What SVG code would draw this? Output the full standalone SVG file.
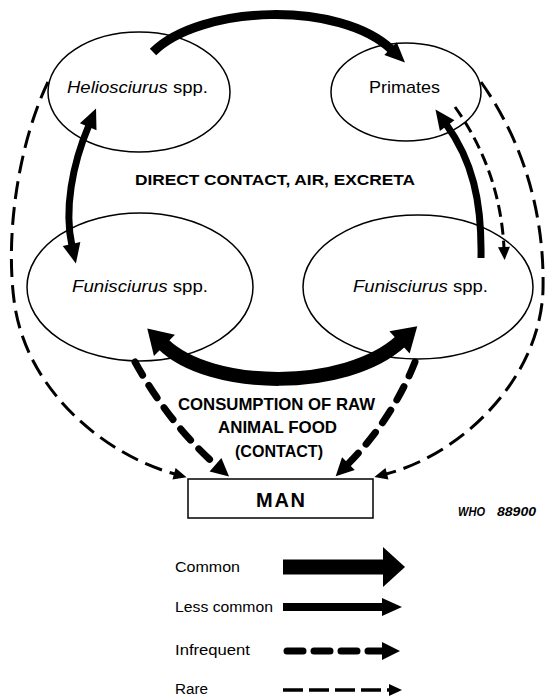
<svg xmlns="http://www.w3.org/2000/svg" width="545" height="700" viewBox="0 0 545 700">
<style>
.node{fill:#fff;stroke:#000;stroke-width:1.5}
.lbl{font-family:"Liberation Sans",Arial,sans-serif;font-size:17px;fill:#000}
.cap{font-family:"Liberation Sans",Arial,sans-serif;font-weight:bold;fill:#000}
.leg{font-family:"Liberation Sans",Arial,sans-serif;font-size:14px;fill:#000}
.common{fill:none;stroke:#000;stroke-width:14}
.less{fill:none;stroke:#000;stroke-width:8}
.inf{fill:none;stroke:#000;stroke-width:7;stroke-dasharray:15 12;stroke-linecap:round}
.rare{fill:none;stroke:#000;stroke-width:3;stroke-dasharray:18 8}
</style>
<defs>
<marker id="hCommon" markerUnits="userSpaceOnUse" orient="auto-start-reverse" refX="2" refY="0" markerWidth="30" markerHeight="34" viewBox="0 -17 30 34" overflow="visible"><path d="M0,-15 L24,0 L0,15 z" fill="#000"/></marker>
<marker id="hLess" markerUnits="userSpaceOnUse" orient="auto-start-reverse" refX="2" refY="0" markerWidth="24" markerHeight="22" viewBox="0 -11 24 22" overflow="visible"><path d="M0,-9 L20,0 L0,9 z" fill="#000"/></marker>
<marker id="hInf" markerUnits="userSpaceOnUse" orient="auto" refX="2" refY="0" markerWidth="22" markerHeight="22" viewBox="0 -11 22 22" overflow="visible"><path d="M0,-9 L18,0 L0,9 z" fill="#000"/></marker>
<marker id="hRare" markerUnits="userSpaceOnUse" orient="auto" refX="1" refY="0" markerWidth="16" markerHeight="16" viewBox="0 -8 16 16" overflow="visible"><path d="M0,-6 L13,0 L0,6 z" fill="#000"/></marker>
</defs>
<rect width="545" height="700" fill="#fff"/>

<g id="connectors">
<path class="less" style="stroke-width:9" d="M153,52 C200,5 340,0 392,50" marker-end="url(#hLess)"/>
<path class="less" style="stroke-width:7" d="M89,125 C72,165 64,210 72,246" marker-start="url(#hLess)" marker-end="url(#hLess)"/>
<path class="less" style="stroke-width:7" d="M481,258 C482,200 472,160 446,124" marker-end="url(#hLess)"/>
<path class="common" d="M163,344 C210,390 345,392 401,341" marker-start="url(#hCommon)" marker-end="url(#hCommon)"/>
<path class="inf" d="M135,362 Q170,425 217,466" marker-end="url(#hInf)"/>
<path class="inf" d="M415,362 Q392,420 347,465" marker-end="url(#hInf)"/>
<path class="rare" d="M48,82 C20,140 5,230 14,300 C25,390 105,455 175,474" marker-end="url(#hRare)"/>
<path class="rare" d="M481,82 C515,130 545,200 543,290 C540,380 460,455 386,474" marker-end="url(#hRare)"/>
<path class="rare" style="stroke-dasharray:12 6" d="M455,107 Q500,170 504,248" marker-end="url(#hRare)"/>
</g>

<g id="helio">
<ellipse class="node" cx="139" cy="92" rx="91" ry="60" style="fill:none"/>
<text class="lbl" x="67" y="93" textLength="141" lengthAdjust="spacingAndGlyphs"><tspan font-style="italic">Heliosciurus</tspan> spp.</text>
</g>
<g id="primates">
<ellipse class="node" cx="406" cy="92" rx="75" ry="49" style="fill:none"/>
<text class="lbl" x="369" y="93" textLength="71" lengthAdjust="spacingAndGlyphs">Primates</text>
</g>
<g id="funi-left">
<ellipse class="node" cx="140" cy="287" rx="113" ry="74" style="fill:none"/>
<text class="lbl" x="72" y="292" textLength="136" lengthAdjust="spacingAndGlyphs"><tspan font-style="italic">Funisciurus</tspan> spp.</text>
</g>
<g id="funi-right">
<ellipse class="node" cx="418" cy="287" rx="115" ry="72" style="fill:none"/>
<text class="lbl" x="353" y="292" textLength="135" lengthAdjust="spacingAndGlyphs"><tspan font-style="italic">Funisciurus</tspan> spp.</text>
</g>
<g id="man">
<rect class="node" x="188" y="479" width="185" height="39"/>
<text class="cap" x="280.5" y="507" font-size="20" text-anchor="middle" textLength="49" lengthAdjust="spacing">MAN</text>
</g>

<g id="labels">
<text class="cap" x="135" y="185" font-size="15" textLength="280" lengthAdjust="spacingAndGlyphs">DIRECT CONTACT, AIR, EXCRETA</text>
<text class="cap" x="178" y="410" font-size="17" textLength="197" lengthAdjust="spacingAndGlyphs">CONSUMPTION OF RAW</text>
<text class="cap" x="218" y="433" font-size="17" textLength="119" lengthAdjust="spacingAndGlyphs">ANIMAL FOOD</text>
<text class="cap" x="235" y="457" font-size="17" textLength="88" lengthAdjust="spacingAndGlyphs">(CONTACT)</text>
<text class="cap" y="516" font-size="13" font-style="italic"><tspan x="458" textLength="27" lengthAdjust="spacingAndGlyphs">WHO</tspan><tspan x="497" textLength="39" lengthAdjust="spacingAndGlyphs">88900</tspan></text>
</g>

<g id="legend">
<text class="leg" x="175" y="572" textLength="65" lengthAdjust="spacingAndGlyphs">Common</text>
<path class="common" style="stroke-width:15" d="M283,567 H384"/>
<path d="M383,547 L405,567 L383,587 z" fill="#000"/>
<text class="leg" x="175" y="612" textLength="98" lengthAdjust="spacingAndGlyphs">Less common</text>
<path class="less" d="M283,607 H384" marker-end="url(#hLess)"/>
<text class="leg" x="175" y="655" textLength="75" lengthAdjust="spacingAndGlyphs">Infrequent</text>
<path class="inf" style="stroke-dasharray:16 11" d="M287,651 H384" marker-end="url(#hInf)"/>
<text class="leg" x="175" y="694" textLength="33" lengthAdjust="spacingAndGlyphs">Rare</text>
<path class="rare" style="stroke-width:3.5;stroke-dasharray:20 6" d="M283,690 H390" marker-end="url(#hRare)"/>
</g>
</svg>
